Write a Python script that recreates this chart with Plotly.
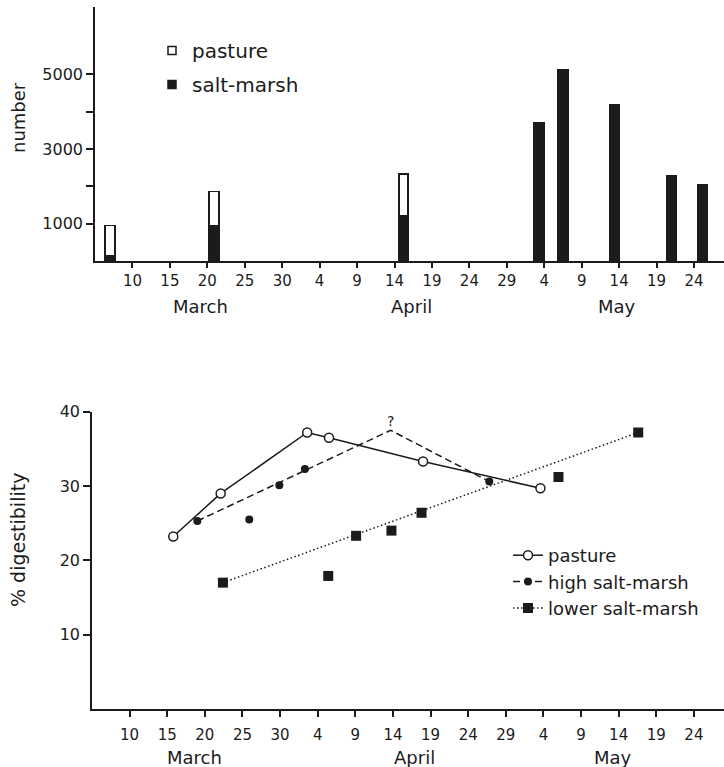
import plotly.graph_objects as go

# ---------------- data ----------------
# day numbers: 1 = 1 March, 35 = 4 April, 65 = 4 May
tick_days = [10, 15, 20, 25, 30, 35, 40, 45, 50, 55, 60, 65, 70, 75, 80, 85]
tick_text = ["10", "15", "20", "25", "30", "4", "9", "14", "19", "24", "29",
             "4", "9", "14", "19", "24"]
months = ["March", "April", "May"]
month_pos_top = [19.1, 47.3, 74.7]
month_pos_bot = [18.6, 47.9, 74.2]

bar_days = [7.0, 20.9, 46.2, 64.3, 67.5, 74.4, 82.0, 86.1]
salt_marsh = [150, 940, 1210, 3690, 5110, 4180, 2280, 2040]
pasture = [800, 920, 1110, 0, 0, 0, 0, 0]

past_days = [15.8, 22.1, 33.6, 36.5, 49.0, 64.6]
past_vals = [23.2, 29.0, 37.2, 36.5, 33.3, 29.7]

high_days = [19.0, 25.9, 29.9, 33.3, 57.8]
high_vals = [25.3, 25.5, 30.1, 32.3, 30.6]
high_line_days = [19.0, 44.7, 57.8]
high_line_vals = [25.3, 37.5, 30.6]

low_days = [22.4, 36.4, 40.1, 44.8, 48.8, 67.0, 77.6]
low_vals = [17.0, 17.9, 23.3, 24.0, 26.4, 31.2, 37.2]
low_fit_days = [22.4, 77.6]
low_fit_vals = [17.0, 37.2]

# ---------------- figure ----------------
INK = "#1b1b1b"
FONT = "DejaVu Sans"
W, H = 724, 767

fig = go.Figure()

# top: bars
fig.add_trace(go.Bar(x=bar_days, y=salt_marsh, width=1.3, name="salt-marsh",
                     marker=dict(color=INK, line=dict(color=INK, width=1.5)),
                     showlegend=False, xaxis="x", yaxis="y"))
fig.add_trace(go.Bar(x=bar_days, y=pasture, width=1.3, name="pasture",
                     marker=dict(color="white", line=dict(color=INK, width=1.8)),
                     showlegend=False, xaxis="x", yaxis="y"))
# legend entries for top
fig.add_trace(go.Scatter(x=[None], y=[None], mode="markers", name="pasture",
                         marker=dict(symbol="square", size=8, color="white",
                                     line=dict(color=INK, width=1.5)),
                         legend="legend", legendgroup="a", xaxis="x", yaxis="y"))
fig.add_trace(go.Scatter(x=[None], y=[None], mode="markers", name="salt-marsh",
                         marker=dict(symbol="square", size=8, color=INK,
                                     line=dict(color=INK, width=1.5)),
                         legend="legend", legendgroup="b", xaxis="x", yaxis="y"))

# bottom: lines
fig.add_trace(go.Scatter(x=high_line_days, y=high_line_vals, mode="lines",
                         line=dict(color=INK, width=1.5, dash="7px,4px"),
                         showlegend=False, xaxis="x2", yaxis="y2"))
fig.add_trace(go.Scatter(x=low_fit_days, y=low_fit_vals, mode="lines",
                         line=dict(color=INK, width=1.5, dash="1.5px,2.5px"),
                         showlegend=False, xaxis="x2", yaxis="y2"))
fig.add_trace(go.Scatter(x=past_days, y=past_vals, mode="lines+markers",
                         name="pasture", legend="legend2",
                         line=dict(color=INK, width=1.5),
                         marker=dict(symbol="circle", size=9, color="white",
                                     line=dict(color=INK, width=1.5)),
                         xaxis="x2", yaxis="y2"))
fig.add_trace(go.Scatter(x=high_days, y=high_vals, mode="markers",
                         showlegend=False,
                         marker=dict(symbol="circle", size=8, color=INK),
                         xaxis="x2", yaxis="y2"))
fig.add_trace(go.Scatter(x=low_days, y=low_vals, mode="markers",
                         showlegend=False,
                         marker=dict(symbol="square", size=10, color=INK),
                         xaxis="x2", yaxis="y2"))
fig.add_trace(go.Scatter(x=[None], y=[None], mode="lines+markers",
                         name="high salt-marsh", legend="legend2",
                         line=dict(color=INK, width=1.5, dash="7px,4px"),
                         marker=dict(symbol="circle", size=8, color=INK),
                         xaxis="x2", yaxis="y2"))
fig.add_trace(go.Scatter(x=[None], y=[None], mode="lines+markers",
                         name="lower salt-marsh", legend="legend2",
                         line=dict(color=INK, width=1.5, dash="1.5px,2.5px"),
                         marker=dict(symbol="square", size=10, color=INK),
                         xaxis="x2", yaxis="y2"))

axis_common = dict(showline=True, linecolor=INK, linewidth=1.5, ticks="outside",
                   tickcolor=INK, tickwidth=1.5, showgrid=False, zeroline=False,
                   automargin=False,
                   tickfont=dict(family=FONT, size=15, color=INK))
yfont = dict(family=FONT, size=16, color=INK)

fig.update_layout(
    width=W, height=H, margin=dict(l=0, r=0, t=0, b=0, autoexpand=False),
    paper_bgcolor="white", plot_bgcolor="white",
    barmode="stack", font=dict(family=FONT, color=INK),
    xaxis=dict(domain=[95 / W, 1.0], range=[5, 89], tickvals=tick_days,
               ticktext=tick_text, ticklen=5, ticklabelstandoff=0, anchor="y",
               **axis_common),
    yaxis=dict(domain=[(H - 261) / H, (H - 7) / H], range=[0, 6800],
               tickvals=[1000, 2000, 3000, 4000, 5000],
               ticktext=["1000", "", "3000", "", "5000"], ticklen=7,
               anchor="x", **{**axis_common, "tickfont": yfont}),
    xaxis2=dict(domain=[92 / W, 1.0], range=[5, 89], tickvals=tick_days,
                ticktext=tick_text, ticklen=6, ticklabelstandoff=5, anchor="y2",
                **axis_common),
    yaxis2=dict(domain=[(H - 709) / H, (H - 411.7) / H], range=[0, 40],
                tickvals=[10, 20, 30, 40], ticklen=7, anchor="x2",
                **{**axis_common, "tickfont": yfont}),
    legend=dict(x=(192 - 40) / W, xanchor="left", y=(H - 31) / H, yanchor="top",
                font=dict(family=FONT, size=20, color=INK), tracegroupgap=5,
                bgcolor="rgba(0,0,0,0)"),
    legend2=dict(x=(548 - 40) / W, xanchor="left", y=(H - 537) / H, yanchor="top",
                 font=dict(family=FONT, size=18, color=INK), tracegroupgap=0,
                 bgcolor="rgba(0,0,0,0)"),
)

ann = []
for m, xp in zip(months, month_pos_top):
    ann.append(dict(x=xp, xref="x", y=(H - 307) / H, yref="paper", yanchor="middle",
                    text=m, showarrow=False, font=dict(family=FONT, size=18, color=INK)))
for m, xp in zip(months, month_pos_bot):
    ann.append(dict(x=xp, xref="x2", y=(H - 757) / H, yref="paper", yanchor="middle",
                    text=m, showarrow=False, font=dict(family=FONT, size=18, color=INK)))
ann.append(dict(x=18 / W, xref="paper", y=(H - 118) / H, yref="paper", yanchor="middle",
                xanchor="center", text="number", textangle=-90, showarrow=False,
                font=dict(family=FONT, size=18, color=INK)))
ann.append(dict(x=18 / W, xref="paper", y=(H - 540) / H, yref="paper", yanchor="middle",
                xanchor="center", text="% digestibility", textangle=-90, showarrow=False,
                font=dict(family=FONT, size=19, color=INK)))
ann.append(dict(x=high_line_days[1], xref="x2", y=high_line_vals[1], yref="y2",
                text="?", showarrow=False, yshift=9,
                font=dict(family=FONT, size=14, color=INK)))
fig.update_layout(annotations=ann)

fig.write_html("out.html")
